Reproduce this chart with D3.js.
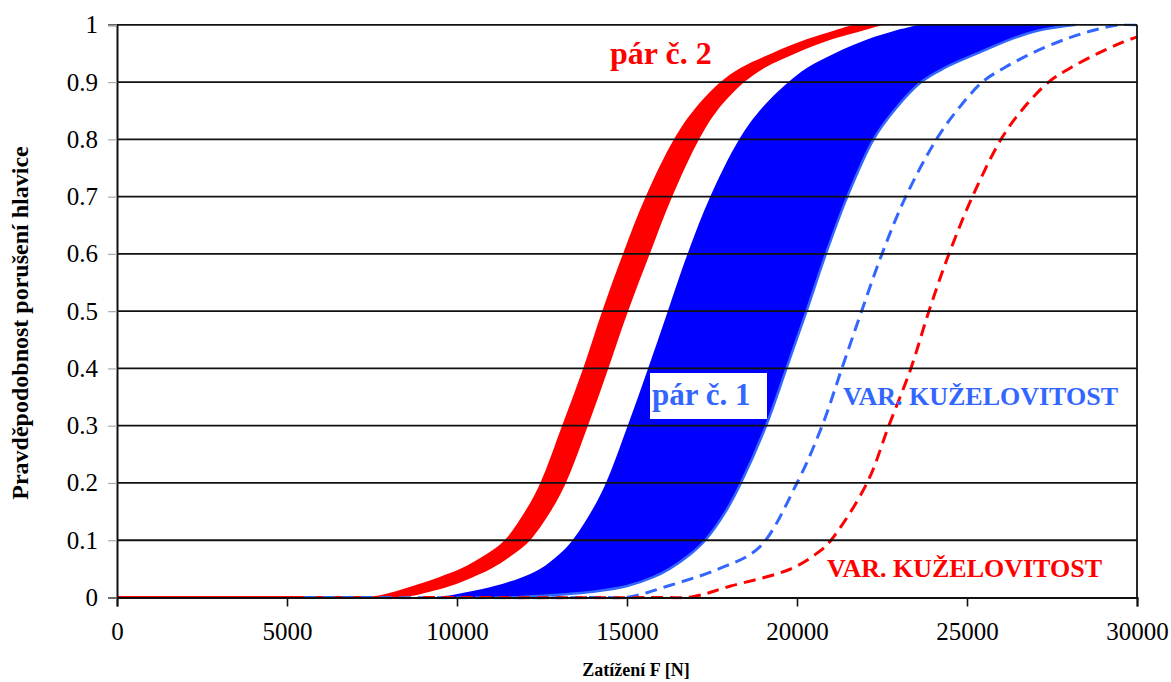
<!DOCTYPE html>
<html lang="cs">
<head>
<meta charset="utf-8">
<title>Pravděpodobnost porušení hlavice</title>
<script src="https://d3js.org/d3.v7.min.js"></script>
<style>
  body { margin: 0; background: #fff; font-family: "Liberation Serif", "Times New Roman", serif; }
  svg text { font-family: "Liberation Serif", "Times New Roman", serif; }
</style>
</head>
<body>
<div id="vis"></div>
<script>
  // probability levels used for both bands
  const probLevels = [0, 0.005, 0.01, 0.02, 0.035, 0.05, 0.075, 0.1, 0.15, 0.2, 0.3, 0.4, 0.5, 0.6, 0.7, 0.8, 0.85, 0.9, 0.925, 0.95, 0.975, 0.99, 1];

  // pár č. 2 (red band) - load F [N] at each probability level
  const redLeft  = [7300, 7800, 8150, 8700, 9450, 10100, 10850, 11400, 12000, 12450, 13090, 13710, 14270, 14880, 15550, 16380, 16950, 17750, 18350, 19250, 20300, 21100, 21650];
  const redRight = [8300, 8850, 9200, 9800, 10450, 11000, 11650, 12150, 12750, 13200, 13850, 14450, 15030, 15670, 16330, 17120, 17650, 18450, 19050, 19950, 21050, 21950, 22530];

  // pár č. 1 (blue band)
  const blueLeft  = [9300, 9900, 10350, 11100, 11900, 12450, 13000, 13400, 13950, 14380, 15020, 15620, 16200, 16780, 17450, 18300, 18900, 19750, 20300, 21100, 22100, 22900, 23600];
  const blueRight = [11500, 13000, 14000, 15000, 15750, 16250, 16850, 17300, 17900, 18350, 19090, 19690, 20280, 20850, 21480, 22250, 22850, 23650, 24350, 25300, 26300, 27100, 28200];

  // VAR. KUŽELOVITOST curves, [F, P]
  const blueDashed = [[5500, 0], [14200, 0], [15060, 0.001], [16200, 0.02], [17700, 0.05], [18880, 0.087], [20000, 0.2], [20740, 0.3],
    [21320, 0.4], [21900, 0.5], [22500, 0.6], [23200, 0.7], [24100, 0.8], [24700, 0.85], [25450, 0.9], [26100, 0.925], [26900, 0.95],
    [27900, 0.975], [28700, 0.99], [29500, 1], [30000, 1]];
  const redDashed = [[9000, 0], [16000, 0], [16900, 0.001], [18050, 0.02], [19820, 0.05], [20650, 0.08], [21000, 0.1], [22060, 0.2], [22700, 0.3],
    [23350, 0.4], [23880, 0.5], [24470, 0.6], [25160, 0.7], [26000, 0.8], [26600, 0.85], [27400, 0.9], [28050, 0.925], [28850, 0.95],
    [29600, 0.97], [30000, 0.979]];

  const xTicks = [0, 5000, 10000, 15000, 20000, 25000, 30000];
  const yTicks = [0, 0.1, 0.2, 0.3, 0.4, 0.5, 0.6, 0.7, 0.8, 0.9, 1];

  const width = 1171, height = 682;
  const red = '#ff0000', blue = '#0000ff', lightBlue = '#3366ff';
  const serif = '"Liberation Serif", "Times New Roman", serif';

  const x = d3.scaleLinear().domain([0, 30000]).range([117, 1137]);
  const y = d3.scaleLinear().domain([0, 1]).range([597.5, 24.8]);

  const svg = d3.select('#vis').append('svg')
    .attr('width', width)
    .attr('height', height);

  svg.append('clipPath').attr('id', 'plot')
    .append('rect')
    .attr('x', x(0)).attr('y', y(1) - 1)
    .attr('width', x(30000) - x(0)).attr('height', y(0) - y(1) + 3);

  const plot = svg.append('g').attr('clip-path', 'url(#plot)');

  // band rows
  const redBand = probLevels.map((p, i) => ({ p, l: redLeft[i], r: redRight[i] }));
  const blueBand = probLevels.map((p, i) => ({ p, l: blueLeft[i], r: blueRight[i] }));

  const smooth = d3.curveCatmullRom.alpha(0.5);

  const band = d3.area()
    .curve(smooth)
    .y(d => y(d.p))
    .x0(d => x(d.l))
    .x1(d => x(d.r));

  // red band sits on zero line from the origin
  plot.append('line')
    .attr('x1', x(0)).attr('x2', x(redLeft[0]))
    .attr('y1', y(0)).attr('y2', y(0))
    .attr('stroke', red).attr('stroke-width', 3);

  plot.append('path')
    .datum(redBand)
    .attr('d', band)
    .attr('fill', red);

  plot.append('path')
    .datum(blueBand)
    .attr('d', band)
    .attr('fill', blue);

  // light blue edge on the right side of the blue band
  plot.append('path')
    .datum(blueBand)
    .attr('d', d3.line().curve(smooth).x(d => x(d.r)).y(d => y(d.p)))
    .attr('fill', 'none')
    .attr('stroke', lightBlue)
    .attr('stroke-width', 2.5);

  // gridlines (drawn over the bands like in the original)
  svg.append('g')
    .selectAll('line')
    .data(yTicks.filter(t => t > 0))
    .enter().append('line')
    .attr('x1', x(0)).attr('x2', x(30000))
    .attr('y1', d => y(d)).attr('y2', d => y(d))
    .attr('stroke', '#111').attr('stroke-width', 1.8);

  // right border
  svg.append('line')
    .attr('x1', x(30000)).attr('x2', x(30000))
    .attr('y1', y(1)).attr('y2', y(0))
    .attr('stroke', '#111').attr('stroke-width', 1.8);

  const line = d3.line()
    .curve(smooth)
    .x(d => x(d[0]))
    .y(d => y(d[1]));

  plot.append('path')
    .datum(blueDashed)
    .attr('d', line)
    .attr('fill', 'none')
    .attr('stroke', lightBlue)
    .attr('stroke-width', 3)
    .attr('stroke-dasharray', '12,7');

  plot.append('path')
    .datum(redDashed)
    .attr('d', line)
    .attr('fill', 'none')
    .attr('stroke', red)
    .attr('stroke-width', 3)
    .attr('stroke-dasharray', '12,7');

  // axes
  const xAxis = svg.append('g')
    .attr('transform', `translate(0,${y(0)})`)
    .call(d3.axisBottom(x).tickValues(xTicks).tickSize(9).tickPadding(16).tickFormat(d3.format('d')));
  xAxis.select('.domain').attr('stroke', '#111').attr('stroke-width', 2);
  xAxis.selectAll('.tick line').attr('stroke', '#111').attr('stroke-width', 1.6);
  xAxis.selectAll('text').attr('font-size', 25).attr('fill', '#000')
    .style('font-family', serif);

  const yAxis = svg.append('g')
    .attr('transform', `translate(${x(0)},0)`)
    .call(d3.axisLeft(y).tickValues(yTicks).tickSize(9).tickPadding(10).tickFormat(d => d === 0 || d === 1 ? d : d3.format('.1f')(d)));
  yAxis.select('.domain').attr('stroke', '#111').attr('stroke-width', 2);
  yAxis.selectAll('.tick line').attr('stroke', '#aaa').attr('stroke-width', 1.2);
  yAxis.selectAll('text').attr('font-size', 25).attr('fill', '#000')
    .style('font-family', serif);

  // axis titles
  svg.append('text')
    .attr('x', 636).attr('y', 676)
    .attr('text-anchor', 'middle')
    .attr('font-size', 18).attr('font-weight', 'bold')
    .text('Zatížení F [N]');

  svg.append('text')
    .attr('transform', 'translate(28,323) rotate(-90)')
    .attr('text-anchor', 'middle')
    .attr('font-size', 24).attr('font-weight', 'bold')
    .text('Pravděpodobnost porušení hlavice');

  // labels
  svg.append('text')
    .attr('x', 610).attr('y', 64)
    .attr('font-size', 32).attr('font-weight', 'bold').attr('fill', red)
    .text('pár č. 2');

  svg.append('rect')
    .attr('x', 650).attr('y', 373).attr('width', 117).attr('height', 46)
    .attr('fill', '#fff');
  svg.append('text')
    .attr('x', 652).attr('y', 405)
    .attr('font-size', 31).attr('font-weight', 'bold').attr('fill', lightBlue)
    .text('pár č. 1');

  svg.append('text')
    .attr('x', 843).attr('y', 405)
    .attr('font-size', 26).attr('font-weight', 'bold').attr('fill', lightBlue)
    .text('VAR. KUŽELOVITOST');

  svg.append('text')
    .attr('x', 827).attr('y', 577)
    .attr('font-size', 26).attr('font-weight', 'bold').attr('fill', red)
    .text('VAR. KUŽELOVITOST');
</script>
</body>
</html>
